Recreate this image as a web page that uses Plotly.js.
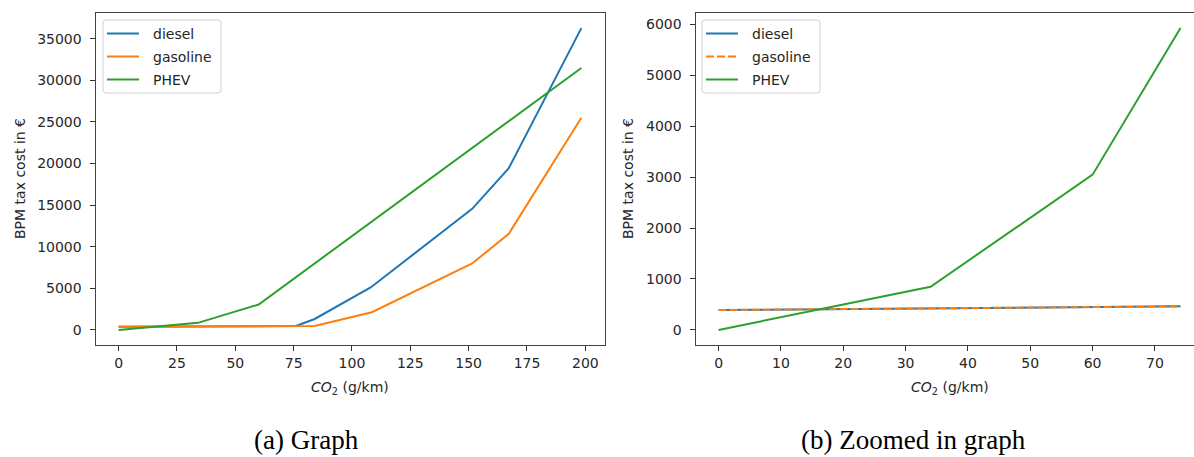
<!DOCTYPE html>
<html>
<head>
<meta charset="utf-8">
<script src="https://cdn.plot.ly/plotly-3.0.1.min.js"></script>
<style>html,body{margin:0;padding:0;background:#fff}</style>
</head>
<body>
<div id="chart" style="width:1194px;height:457px"></div>
<script>
// BPM registration tax versus CO2 emission, full range
const seriesNames = ['diesel', 'gasoline', 'PHEV'];
const dieselCO2 = [0, 76, 84, 108, 151.5, 167.2, 198.3];
const dieselBPM = [390, 466, 1315, 5100, 14550, 19450, 36270];
const gasolineCO2 = [0, 84, 108.5, 151.5, 167.2, 198.3];
const gasolineBPM = [390, 474, 2120, 7980, 11560, 25500];
const phevCO2 = [0, 34, 60, 198.3];
const phevBPM = [0, 850, 3050, 31480];

// Low-emission range only
const dieselCO2Zoom = [0, 74.1];
const dieselBPMZoom = [390, 462];
const gasolineCO2Zoom = [0, 74.1];
const gasolineBPMZoom = [390, 462];
const phevCO2Zoom = [0, 34, 60, 74.1];
const phevBPMZoom = [0, 846, 3047, 5924];

const xTicksFull = [0, 25, 50, 75, 100, 125, 150, 175, 200];
const yTicksFull = [0, 5000, 10000, 15000, 20000, 25000, 30000, 35000];
const xTicksZoom = [0, 10, 20, 30, 40, 50, 60, 70];
const yTicksZoom = [0, 1000, 2000, 3000, 4000, 5000, 6000];

const captions = ['(a) Graph', '(b) Zoomed in graph'];
const yTitle = 'BPM tax cost in €';
const xTitle = '<i>CO</i><sub>2</sub> (g/km)';

const W = 1194, H = 457;
const colors = ['#1f77b4', '#ff7f0e', '#2ca02c'];
const px = v => v / W;
const py = v => 1 - v / H;

const tickFont = {family: 'DejaVu Sans', size: 14, color: '#262626'};
const lineCol = '#444';

function axisBase(ticks, range, domain, mirror) {
  return {
    range: range, domain: domain,
    tickmode: 'array', tickvals: ticks, ticktext: ticks.map(String),
    ticks: 'outside', ticklen: 5, tickwidth: 1, tickcolor: '#333',
    tickfont: tickFont, showgrid: false, zeroline: false,
    showline: true, linecolor: lineCol, linewidth: 1, mirror: mirror,
    fixedrange: true
  };
}

function span(arr) { return [Math.min(...arr), Math.max(...arr)]; }
function padded(lo, hi) { const m = (hi - lo) * 0.05; return [lo - m, hi + m]; }

const fullX = padded(...span(dieselCO2.concat(gasolineCO2, phevCO2)));
const fullY = padded(...span(dieselBPM.concat(gasolineBPM, phevBPM)));
const zoomXp = padded(...span(dieselCO2Zoom.concat(gasolineCO2Zoom, phevCO2Zoom)));
const zoomY = padded(...span(dieselBPMZoom.concat(gasolineBPMZoom, phevBPMZoom)));

// Right panel is clipped at the page edge, so its axis stops short of the padded end
const leftDom = [px(95.5), px(604.5)];
const rightDom = [px(695.5), 1];
const yDom = [py(345), py(13)];
const rightPxPerUnit = (1204 - 695.9) / (zoomXp[1] - zoomXp[0]);
const zoomX = [zoomXp[0], zoomXp[0] + (W - 695.5) / rightPxPerUnit];

const traces = [
  {x: dieselCO2, y: dieselBPM, name: seriesNames[0], xaxis: 'x', yaxis: 'y',
   mode: 'lines', line: {color: colors[0], width: 2}},
  {x: gasolineCO2, y: gasolineBPM, name: seriesNames[1], xaxis: 'x', yaxis: 'y',
   mode: 'lines', line: {color: colors[1], width: 2}},
  {x: phevCO2, y: phevBPM, name: seriesNames[2], xaxis: 'x', yaxis: 'y',
   mode: 'lines', line: {color: colors[2], width: 2}},
  {x: dieselCO2Zoom, y: dieselBPMZoom, name: seriesNames[0], xaxis: 'x2', yaxis: 'y2',
   mode: 'lines', line: {color: colors[0], width: 2}},
  {x: gasolineCO2Zoom, y: gasolineBPMZoom, name: seriesNames[1], xaxis: 'x2', yaxis: 'y2',
   mode: 'lines', line: {color: colors[1], width: 2, dash: '8px,3px'}},
  {x: phevCO2Zoom, y: phevBPMZoom, name: seriesNames[2], xaxis: 'x2', yaxis: 'y2',
   mode: 'lines', line: {color: colors[2], width: 2}}
];

const shapes = [];
const annotations = [];

// Legend boxes drawn in pixel space
function roundRect(x0, y0, x1, y1, r) {
  const rx = r / W, ry = r / H;
  const X0 = px(x0), X1 = px(x1), Y0 = py(y0), Y1 = py(y1);
  return `M ${X0 + rx},${Y0} L ${X1 - rx},${Y0} Q ${X1},${Y0} ${X1},${Y0 - ry} ` +
         `L ${X1},${Y1 + ry} Q ${X1},${Y1} ${X1 - rx},${Y1} ` +
         `L ${X0 + rx},${Y1} Q ${X0},${Y1} ${X0},${Y1 + ry} ` +
         `L ${X0},${Y0 - ry} Q ${X0},${Y0} ${X0 + rx},${Y0} Z`;
}

function addLegend(left, top, dashes) {
  shapes.push({type: 'path', xref: 'paper', yref: 'paper',
    path: roundRect(left, top, left + 118, top + 73, 3),
    line: {color: '#d0d0d0', width: 1}, fillcolor: 'rgba(255,255,255,0.85)'});
  seriesNames.forEach((name, i) => {
    const rowY = top + 13.5 + i * 23;
    shapes.push({type: 'line', xref: 'paper', yref: 'paper',
      x0: px(left + 4), x1: px(left + 36), y0: py(rowY), y1: py(rowY),
      line: {color: colors[i], width: 2, dash: dashes[i]}});
    annotations.push({xref: 'paper', yref: 'paper', x: px(left + 48), y: py(rowY),
      xanchor: 'left', yanchor: 'middle', showarrow: false, text: name,
      font: {family: 'DejaVu Sans', size: 14, color: '#262626'}});
  });
}
addLegend(103, 20, ['solid', 'solid', 'solid']);
addLegend(702, 20, ['solid', '8px,3px', 'solid']);

// Axis titles
[[20, leftDom], [628, rightDom]].forEach(([cx]) => {
  annotations.push({xref: 'paper', yref: 'paper', x: px(cx), y: py(179),
    xanchor: 'center', yanchor: 'middle', textangle: -90, showarrow: false,
    text: yTitle, font: {family: 'DejaVu Sans', size: 14, color: '#262626'}});
});
[350, 950].forEach(cx => {
  annotations.push({xref: 'paper', yref: 'paper', x: px(cx), y: py(388),
    xanchor: 'center', yanchor: 'middle', showarrow: false,
    text: xTitle, font: {family: 'DejaVu Sans', size: 14, color: '#262626'}});
});

// Sub-figure captions
[[306, captions[0]], [913, captions[1]]].forEach(([cx, t]) => {
  annotations.push({xref: 'paper', yref: 'paper', x: px(cx), y: py(440),
    xanchor: 'center', yanchor: 'middle', showarrow: false,
    text: t, font: {family: 'Liberation Serif', size: 27, color: '#000'}});
});

const layout = {
  width: W, height: H,
  margin: {l: 0, r: 0, t: 0, b: 0, pad: 0},
  paper_bgcolor: '#fff', plot_bgcolor: '#fff',
  showlegend: false,
  xaxis: Object.assign(axisBase(xTicksFull, fullX, leftDom, true), {anchor: 'y'}),
  yaxis: Object.assign(axisBase(yTicksFull, fullY, yDom, true), {anchor: 'x', ticklabelstandoff: 5}),
  xaxis2: Object.assign(axisBase(xTicksZoom, zoomX, rightDom, true), {anchor: 'y2'}),
  yaxis2: Object.assign(axisBase(yTicksZoom, zoomY, yDom, false), {anchor: 'x2', ticklabelstandoff: 5}),
  shapes: shapes,
  annotations: annotations
};

Plotly.newPlot('chart', traces, layout, {staticPlot: true, displayModeBar: false});
</script>
</body>
</html>
